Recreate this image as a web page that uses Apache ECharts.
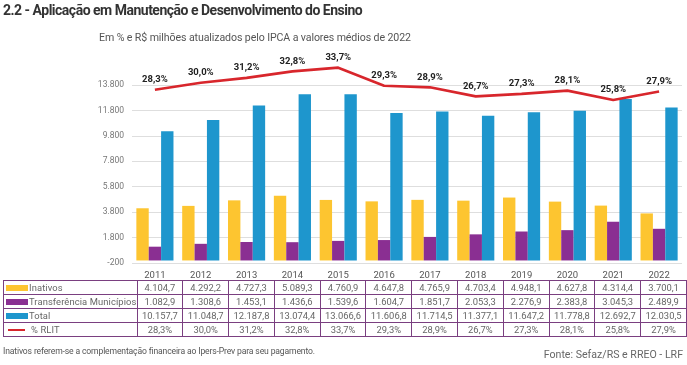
<!DOCTYPE html>
<html>
<head>
<meta charset="utf-8">
<script src="https://cdn.jsdelivr.net/npm/echarts@6/dist/echarts.min.js"></script>
<style>
  html, body { margin:0; padding:0; background:#fff; }
  #wrap { position:relative; width:687px; height:365px; overflow:hidden; font-family: Roboto, "Noto Sans", sans-serif; }
  #chart { position:absolute; left:0; top:0; width:687px; height:365px; }
  #title { position:absolute; left:3px; top:2px; font-size:14px; font-weight:700; color:#333; letter-spacing:-0.5px; white-space:nowrap; }
  #subtitle { position:absolute; left:99px; top:31px; font-size:10.6px; color:#555; white-space:nowrap; letter-spacing:-0.1px; }
  #tbl { position:absolute; left:3px; top:280px; border-collapse:collapse; table-layout:fixed; font-size:9.4px; color:#666; }
  #tbl td { border:1px solid #7a3f80; height:13px; padding:0; text-align:center; white-space:nowrap; line-height:13px; }
  #tbl td.lab { text-align:left; padding-left:2px; color:#666; letter-spacing:0.1px; }
  .sw { display:inline-block; width:22px; height:6px; vertical-align:middle; margin-right:1px; position:relative; top:-1px; }
  .ln { display:inline-block; width:17px; height:2px; vertical-align:middle; margin-right:6px; margin-left:2px; position:relative; top:-1px; }
  #note { position:absolute; left:3px; top:346px; font-size:8.6px; color:#555; white-space:nowrap; letter-spacing:-0.15px; }
  #fonte { position:absolute; right:4px; top:348px; font-size:10.6px; color:#666; white-space:nowrap; }
</style>
</head>
<body>
<div id="wrap">
  <div id="chart"></div>
  <div id="title">2.2 - Aplicação em Manutenção e Desenvolvimento do Ensino</div>
  <div id="subtitle">Em % e R$ milhões atualizados pelo IPCA a valores médios de 2022</div>
  <table id="tbl"></table>
  <div id="note">Inativos referem-se a complementação financeira ao Ipers-Prev para seu pagamento.</div>
  <div id="fonte">Fonte: Sefaz/RS e RREO - LRF</div>
</div>
<script>
const categories = ['2011','2012','2013','2014','2015','2016','2017','2018','2019','2020','2021','2022'];
const inativos = [4104.7, 4292.2, 4727.3, 5089.3, 4760.9, 4647.8, 4765.9, 4703.4, 4948.1, 4627.8, 4314.4, 3700.1];
const transferencia = [1082.9, 1308.6, 1453.1, 1436.6, 1539.6, 1604.7, 1851.7, 2053.3, 2276.9, 2383.8, 3045.3, 2489.9];
const total = [10157.7, 11048.7, 12187.8, 13074.4, 13066.6, 11606.8, 11714.5, 11377.1, 11647.2, 11778.8, 12692.7, 12030.5];
const rlit = [28.3, 30.0, 31.2, 32.8, 33.7, 29.3, 28.9, 26.7, 27.3, 28.1, 25.8, 27.9];
const seriesNames = ['Inativos', 'Transferência Municípios', 'Total', '% RLIT'];

const COLORS = { inativos:'#fdc530', transf:'#8a2f92', total:'#1e96cd', rlit:'#d8262c' };

function fmtNum(v) {
  const s = v.toFixed(1).split('.');
  const i = s[0].replace(/\B(?=(\d{3})+(?!\d))/g, '.');
  return i + ',' + s[1];
}
function fmtPct(v) { return v.toFixed(1).replace('.', ',') + '%'; }
function fmtAxis(v) {
  const neg = v < 0; const a = Math.abs(Math.round(v)).toString().replace(/\B(?=(\d{3})+(?!\d))/g, '.');
  return (neg ? '-' : '') + a;
}

const chart = echarts.init(document.getElementById('chart'), null, { renderer: 'canvas' });
chart.setOption({
  animation: false,
  grid: { left: 132, right: 5, top: 85, bottom: 102, containLabel: false },
  xAxis: {
    type: 'category', data: categories,
    axisLine: { show: false }, axisTick: { show: false },
    axisLabel: { color: '#555', fontSize: 9.5, margin: 8, fontFamily: 'Roboto' }
  },
  yAxis: [
    {
      type: 'value', min: -200, max: 13800, interval: 2000,
      axisLine: { show: false }, axisTick: { show: false },
      axisLabel: { color: '#777', fontSize: 8.5, margin: 8, formatter: fmtAxis, fontFamily: 'Roboto' },
      splitLine: { lineStyle: { color: '#dedede', width: 1 } }
    },
    {
      type: 'value', min: -13.97, max: 29.47, show: false, splitLine: { show: false }
    }
  ],
  series: [
    { name: seriesNames[0], type: 'bar', data: inativos, itemStyle: { color: COLORS.inativos }, barGap: '0%', barCategoryGap: '19%' },
    { name: seriesNames[1], type: 'bar', data: transferencia, itemStyle: { color: COLORS.transf }, barGap: '0%', barCategoryGap: '19%' },
    { name: seriesNames[2], type: 'bar', data: total, itemStyle: { color: COLORS.total }, barGap: '0%', barCategoryGap: '19%' },
    {
      name: seriesNames[3], type: 'line', yAxisIndex: 1, data: rlit, clip: false,
      symbol: 'circle', symbolSize: 0, showSymbol: true,
      lineStyle: { color: COLORS.rlit, width: 2.6 },
      itemStyle: { color: COLORS.rlit },
      label: { show: true, position: 'top', distance: 5, color: '#222', fontSize: 9.5, fontWeight: 'bold', fontFamily: 'Roboto', formatter: p => fmtPct(p.value) }
    }
  ]
});

// Data table
const tbl = document.getElementById('tbl');
const colW = 550 / 12;
let html = '<colgroup><col style="width:129px">' + categories.map(() => '<col style="width:' + colW.toFixed(2) + 'px">').join('') + '</colgroup>';
const rows = [
  { sw: '<span class="sw" style="background:' + COLORS.inativos + '"></span>', name: seriesNames[0], vals: inativos.map(fmtNum) },
  { sw: '<span class="sw" style="background:' + COLORS.transf + '"></span>', name: 'Transferência Municípios', vals: transferencia.map(fmtNum) },
  { sw: '<span class="sw" style="background:' + COLORS.total + '"></span>', name: seriesNames[2], vals: total.map(fmtNum) },
  { sw: '<span class="ln" style="background:' + COLORS.rlit + '"></span>', name: seriesNames[3], vals: rlit.map(fmtPct) }
];
rows.forEach(r => {
  html += '<tr><td class="lab">' + r.sw + r.name + '</td>' + r.vals.map(v => '<td>' + v + '</td>').join('') + '</tr>';
});
tbl.innerHTML = html;
</script>
</body>
</html>
